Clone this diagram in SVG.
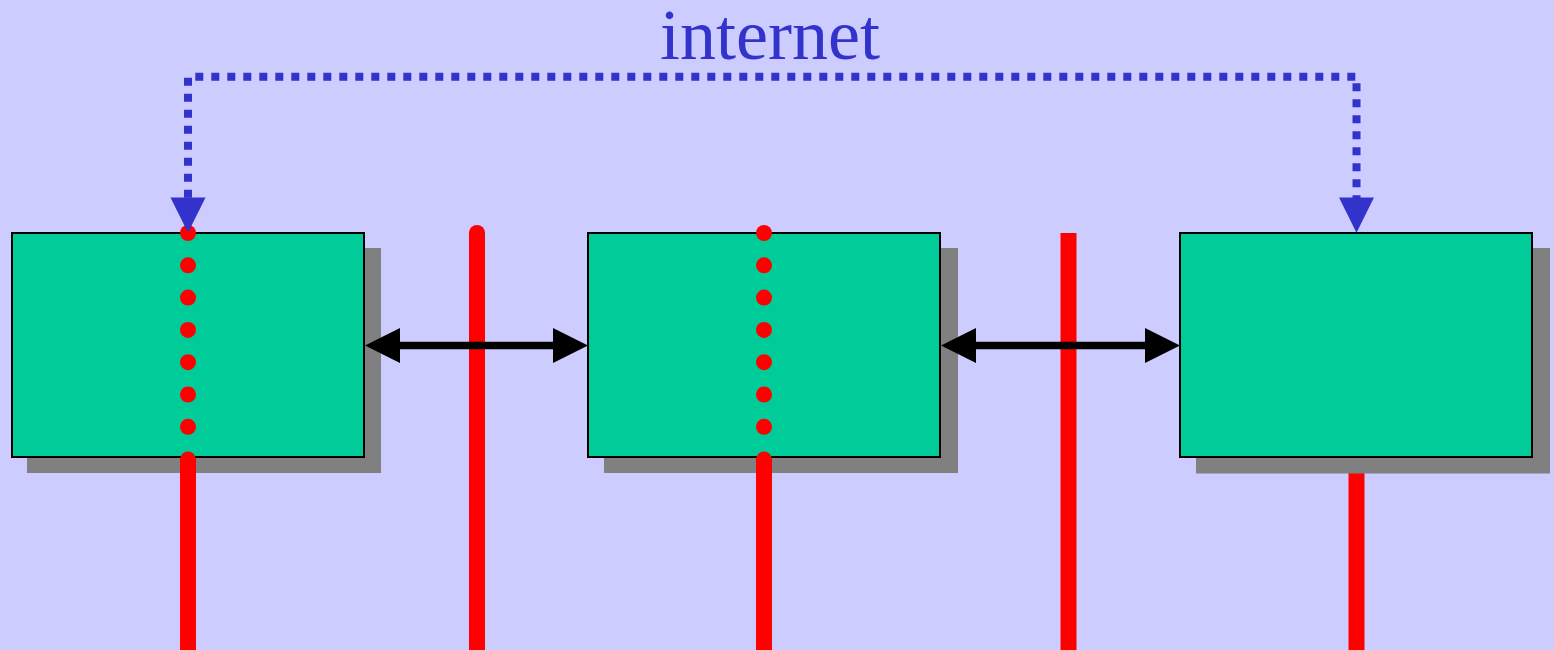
<svg xmlns="http://www.w3.org/2000/svg" width="1554" height="650" viewBox="0 0 1554 650">
<defs>
<style>
.shadow{fill:#808080;}
.box{fill:#00CC99;stroke:#000;stroke-width:2;}
.red{stroke:#FF0000;stroke-width:16;fill:none;}
.dot{fill:#FF0000;}
.net{stroke:#3333CC;stroke-width:8;fill:none;stroke-dasharray:8 8;}
.bhead{fill:#3333CC;}
.link{stroke:#000;stroke-width:7.5;fill:none;}
.khead{fill:#000;}
.lbl{font-family:"Liberation Serif","Times New Roman",serif;font-size:72px;fill:#3333CC;}
</style>
</defs>
<rect x="0" y="0" width="1554" height="650" fill="#CCCCFF"/>
<g id="label">
<text class="lbl" x="770" y="59" text-anchor="middle">internet</text>
</g>
<g id="segments">
<line class="red" x1="477" y1="233" x2="477" y2="660" stroke-linecap="round"/>
<line class="red" x1="1068.5" y1="233" x2="1068.5" y2="660"/>
<line class="red" x1="1356.5" y1="470" x2="1356.5" y2="660"/>
</g>
<g id="node1">
<rect class="shadow" x="27" y="248" width="354" height="225"/>
<rect class="box" x="12" y="233" width="352" height="224"/>
<line class="red" x1="188" y1="459.5" x2="188" y2="660" stroke-linecap="round"/>
<g class="dot">
<circle cx="188" cy="233" r="8"/><circle cx="188" cy="265.3" r="8"/><circle cx="188" cy="297.6" r="8"/><circle cx="188" cy="329.9" r="8"/><circle cx="188" cy="362.2" r="8"/><circle cx="188" cy="394.5" r="8"/><circle cx="188" cy="426.8" r="8"/>
</g>
</g>
<g id="node2">
<rect class="shadow" x="604" y="248" width="354" height="225"/>
<rect class="box" x="588" y="233" width="352" height="224"/>
<line class="red" x1="764" y1="459.5" x2="764" y2="660" stroke-linecap="round"/>
<g class="dot">
<circle cx="764" cy="233" r="8"/><circle cx="764" cy="265.3" r="8"/><circle cx="764" cy="297.6" r="8"/><circle cx="764" cy="329.9" r="8"/><circle cx="764" cy="362.2" r="8"/><circle cx="764" cy="394.5" r="8"/><circle cx="764" cy="426.8" r="8"/>
</g>
</g>
<g id="node3">
<rect class="shadow" x="1196" y="248" width="354" height="225.5"/>
<rect class="box" x="1180" y="233" width="352" height="224"/>
</g>
<g id="connectors">
<line class="link" x1="398" y1="345.5" x2="555" y2="345.5"/>
<polygon class="khead" points="365,345.5 400,328 400,363"/>
<polygon class="khead" points="588,345.5 553,328 553,363"/>
<line class="link" x1="973" y1="345.5" x2="1147" y2="345.5"/>
<polygon class="khead" points="941,345.5 976,328 976,363"/>
<polygon class="khead" points="1180,345.5 1145,328 1145,363"/>
<path class="net" d="M195.3,76.7 L1356,76.7"/>
<path class="net" d="M188,77.7 L188,200"/>
<path class="net" d="M1356.5,83.3 L1356.5,200"/>
<polygon class="bhead" points="170.5,197.5 205.5,197.5 188,232.7"/>
<polygon class="bhead" points="1339,197.5 1374,197.5 1356.5,232.7"/>
</g>
</svg>
